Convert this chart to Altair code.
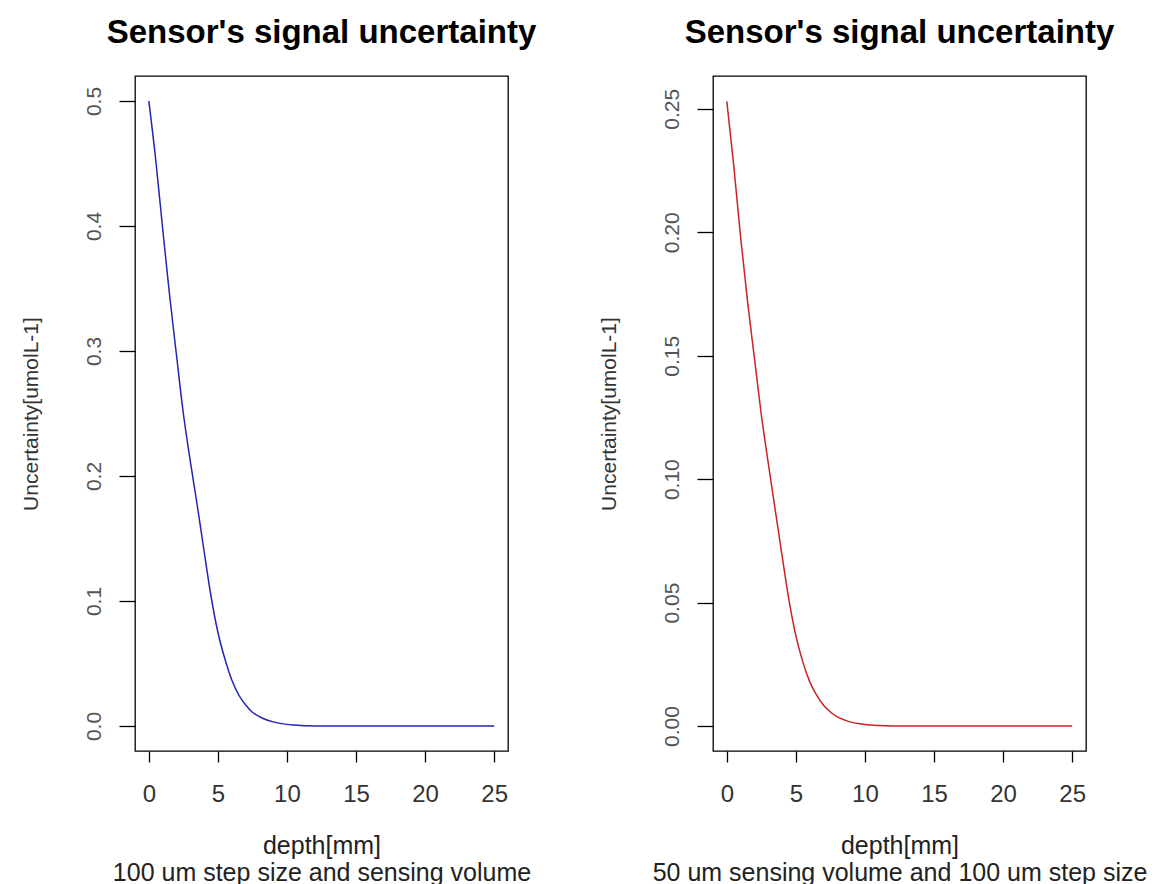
import altair as alt
import pandas as pd

# depth grid [mm] and signal uncertainty [umol L-1] for both sensor set-ups
depth = [0.0, 0.5, 1.0, 1.5, 2.0, 2.5, 3.0, 3.5, 4.0, 4.5, 5.0, 5.5, 6.0,
         6.5, 7.0, 7.5, 8.0, 8.5, 9.0, 9.5, 10.0, 10.5, 11.0, 11.5, 12.0,
         15.0, 20.0, 25.0]

unc_100um = [0.500, 0.453, 0.398, 0.345, 0.297, 0.250, 0.212, 0.177, 0.140,
             0.104, 0.075, 0.054, 0.037, 0.025, 0.017, 0.011, 0.0075, 0.005,
             0.0033, 0.0021, 0.0013, 0.0008, 0.0004, 0.0002, 0.0001,
             0.0, 0.0, 0.0]

unc_50um = [0.253, 0.227, 0.198, 0.172, 0.149, 0.126, 0.1065, 0.0877, 0.069,
            0.051, 0.0365, 0.026, 0.018, 0.0125, 0.0084, 0.0057, 0.0037,
            0.0025, 0.0016, 0.0010, 0.0006, 0.0004, 0.0002, 0.0001, 0.00005,
            0.0, 0.0, 0.0]

x_ticks = [0, 5, 10, 15, 20, 25]
y_ticks_left = [0.0, 0.1, 0.2, 0.3, 0.4, 0.5]
y_ticks_right = [0.00, 0.05, 0.10, 0.15, 0.20, 0.25]

FONT = "Liberation Sans"
TITLE = "Sensor's signal uncertainty"


def panel(values, color, y_domain, y_ticks, y_fmt, subtitle):
    df = pd.DataFrame({"depth": depth, "unc": values})
    return (
        alt.Chart(df)
        .mark_line(color=color, strokeWidth=1.5, interpolate="monotone")
        .encode(
            x=alt.X(
                "depth:Q",
                scale=alt.Scale(domain=[-1, 26], nice=False, zero=False),
                axis=alt.Axis(
                    values=x_ticks,
                    format="d",
                    title=["depth[mm]", subtitle],
                    titleLineHeight=27,
                    titleFontSize=25,
                    titleFontWeight="normal",
                    titleFont=FONT,
                    titleColor="#222222",
                    titlePadding=27,
                    labelFont=FONT,
                    labelFontSize=24,
                    labelColor="#333333",
                    labelPadding=20,
                    tickSize=11,
                    tickColor="black",
                    tickWidth=1.3,
                    domain=False,
                    grid=False,
                    labelFlush=False,
                ),
            ),
            y=alt.Y(
                "unc:Q",
                scale=alt.Scale(domain=y_domain, nice=False, zero=False),
                axis=alt.Axis(
                    values=y_ticks,
                    format=y_fmt,
                    title="Uncertainty[umolL-1]",
                    titleFontSize=21,
                    titleFontWeight="normal",
                    titleFont=FONT,
                    titleColor="#333333",
                    titlePadding=42,
                    labelFont=FONT,
                    labelFontSize=21,
                    labelColor="#555555",
                    labelAngle=-90,
                    labelAlign="center",
                    labelBaseline="bottom",
                    labelPadding=15,
                    tickSize=16,
                    tickColor="black",
                    tickWidth=1.3,
                    domain=False,
                    grid=False,
                    labelFlush=False,
                ),
            ),
        )
        .properties(
            width=373,
            height=675,
            title=alt.TitleParams(
                TITLE,
                font=FONT,
                fontSize=33,
                fontWeight="bold",
                color="black",
                anchor="middle",
                offset=26,
            ),
        )
    )


left = panel(unc_100um, "#2424B4", [-0.02, 0.52], y_ticks_left, ".1f",
             "100 um step size and sensing volume")
right = panel(unc_50um, "#CC2222", [-0.0101, 0.2633], y_ticks_right, ".2f",
              "50 um sensing volume and 100 um step size")

chart = (
    alt.hconcat(left, right, spacing=205, bounds="flush")
    .configure_view(stroke="black", strokeWidth=1.3)
    .properties(
        background="white",
        padding={"left": 19, "top": 16, "right": 10, "bottom": 0},
    )
)

chart.save("out.html", embed_options={"renderer": "svg", "actions": False})
